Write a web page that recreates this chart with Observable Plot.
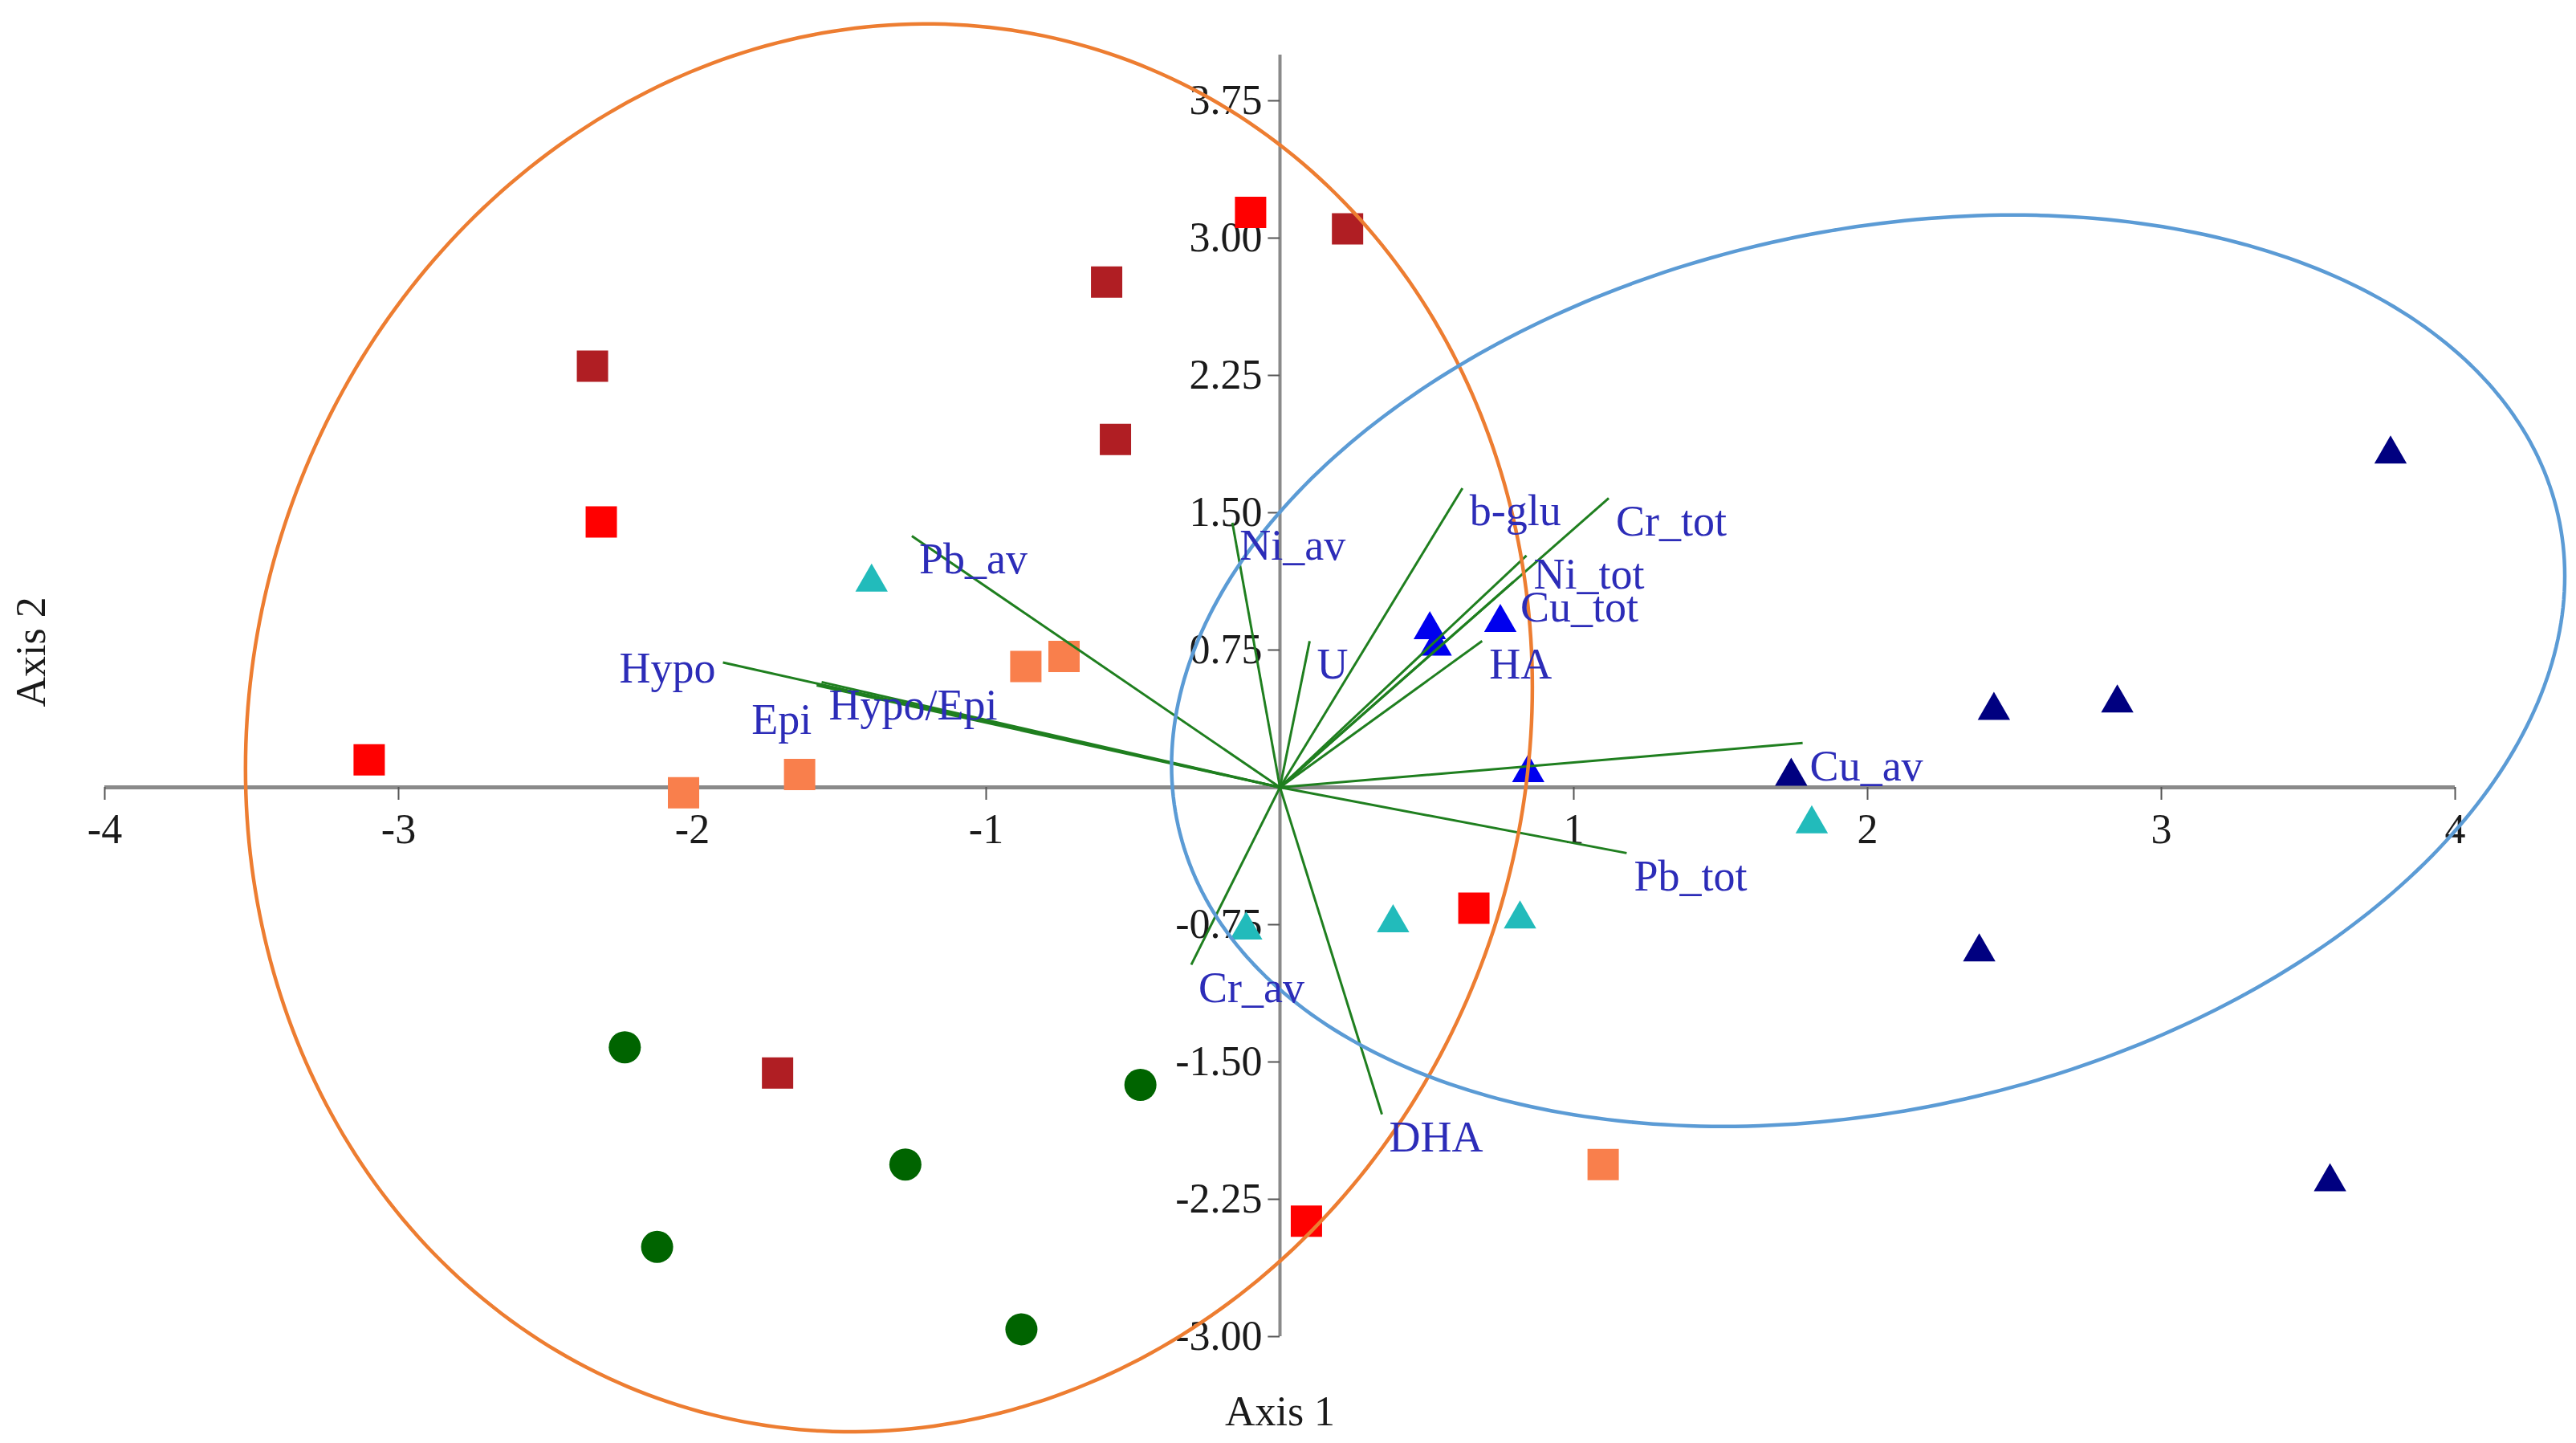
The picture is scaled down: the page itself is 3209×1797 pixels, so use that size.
<!DOCTYPE html>
<html>
<head>
<meta charset="utf-8">
<script src="https://cdn.jsdelivr.net/npm/d3@7"></script>
<script src="https://cdn.jsdelivr.net/npm/@observablehq/plot@0.6"></script>
<style>
  html, body { margin: 0; padding: 0; background: #ffffff; }
  #chart svg { display: block; }
</style>
</head>
<body>
<div id="chart"></div>
<script>
// ---- Sample scores (Axis 1, Axis 2) ----
const redSquares     = [[-0.10, 3.14], [-2.31, 1.45], [-3.10, 0.15], [0.66, -0.66], [0.09, -2.37]];
const darkRedSquares = [[0.23, 3.05], [-0.59, 2.76], [-2.34, 2.30], [-0.56, 1.90], [-1.71, -1.56]];
const coralSquares   = [[-0.865, 0.66], [-0.735, 0.715], [-1.635, 0.07], [-2.03, -0.03], [1.10, -2.06]];
const greenCircles   = [[-2.23, -1.42], [-0.475, -1.625], [-1.275, -2.06], [-2.12, -2.51], [-0.88, -2.96]];
const cyanTriangles  = [[-1.39, 1.12], [1.81, -0.20], [0.385, -0.74], [0.817, -0.72], [-0.115, -0.78]];
const navyTriangles  = [[3.78, 1.82], [2.85, 0.46], [2.43, 0.42], [1.74, 0.06], [2.38, -0.90], [3.574, -2.155]];
const blueTriangles  = [[0.51, 0.86], [0.53, 0.77], [0.75, 0.90], [0.845, 0.08]];

// ---- Biplot variable vectors (end points) ----
const vectorNames = ["Pb_av", "Hypo", "Epi", "Hypo/Epi", "Ni_av", "U", "b-glu", "Cr_tot", "Ni_tot", "Cu_tot", "HA", "Cu_av", "Pb_tot", "Cr_av", "DHA"];
const vectorX     = [-1.253, -1.896, -1.577, -1.560, -0.162, 0.101, 0.621, 1.119, 0.839, 0.794, 0.688, 1.779, 1.180, -0.302, 0.347];
const vectorY     = [ 1.373,  0.682,  0.557,  0.575,  1.445, 0.799, 1.634, 1.580, 1.266, 1.122, 0.799, 0.242, -0.359, -0.969, -1.786];
// label anchor points (Axis 1, Axis 2)
const labelX      = [-1.253, -1.896, -1.823, -1.560, -0.162, 0.101, 0.621, 1.119, 0.839, 0.794, 0.688, 1.779, 1.180, -0.302, 0.347];
const labelY      = [ 1.373,  0.682,  0.494,  0.575,  1.445, 0.799, 1.634, 1.580, 1.290, 1.110, 0.799, 0.242, -0.359, -0.969, -1.786];
const leftLabelled = ["Hypo"];

// ---- Group ellipses (centre, half-extents, correlation) ----
const ellipseNames = ["orange", "blue"];
const ellipseCx = [-1.331, 2.002];
const ellipseCy = [0.325, 0.637];
const ellipseSx = [2.190, 2.371];
const ellipseSy = [3.845, 2.489];
const ellipseR  = [0.058, 0.208];

// ---- Axes ----
const xTicks = [-4, -3, -2, -1, 1, 2, 3, 4];
const yTicks = [3.75, 3.00, 2.25, 1.50, 0.75, -0.75, -1.50, -2.25, -3.00];
const xDomain = [-4, 4];
const yDomain = [-3, 4];

// ---- Build tables ----
const toRows = arr => arr.map(([x, y]) => ({x, y}));
const vectors = vectorNames.map((name, i) => ({name, x: vectorX[i], y: vectorY[i], lx: labelX[i], ly: labelY[i]}));
const ellipsePts = [];
ellipseNames.forEach((g, k) => {
  const sx = ellipseSx[k], sy = ellipseSy[k], r = ellipseR[k];
  for (let i = 0; i <= 360; i++) {
    const t = i * Math.PI / 180;
    ellipsePts.push({
      g,
      x: ellipseCx[k] + sx * Math.cos(t),
      y: ellipseCy[k] + r * sy * Math.cos(t) + sy * Math.sqrt(1 - r * r) * Math.sin(t)
    });
  }
});

const FONT = "'Liberation Serif', 'Times New Roman', serif";
const AXIS_GRAY = "#8a8a8a";
const GREEN = "#1f7f1f";
const LABEL_BLUE = "#2c2cb8";

const chart = Plot.plot({
  width: 3209,
  height: 1797,
  marginLeft: 130,
  marginRight: 151,
  marginTop: 68,
  marginBottom: 133,
  style: {fontFamily: FONT, background: "#ffffff"},
  x: {domain: xDomain, axis: null},
  y: {domain: yDomain, axis: null},
  marks: [
    // axis lines through the origin
    Plot.ruleY([0], {x1: xDomain[0], x2: xDomain[1], stroke: AXIS_GRAY, strokeWidth: 5}),
    Plot.ruleX([0], {y1: yDomain[0], y2: yDomain[1], stroke: AXIS_GRAY, strokeWidth: 4}),
    // tick marks
    Plot.ruleX(xTicks, {x: d => d, y1: 0, y2: -0.07, stroke: "#555", strokeWidth: 2}),
    Plot.ruleY(yTicks, {y: d => d, x1: 0, x2: -0.04, stroke: "#555", strokeWidth: 2}),
    // tick labels
    Plot.text(xTicks, {x: d => d, y: 0, text: d => String(d), dy: 53, lineAnchor: "middle", fontSize: 52, fill: "#1a1a1a"}),
    Plot.text(yTicks, {x: 0, y: d => d, text: d => d.toFixed(2), dx: -22, textAnchor: "end", lineAnchor: "middle", fontSize: 52, fill: "#1a1a1a"}),
    // sample points
    Plot.dot(toRows(redSquares), {x: "x", y: "y", symbol: "square", r: 22, fill: "#ff0000"}),
    Plot.dot(toRows(darkRedSquares), {x: "x", y: "y", symbol: "square", r: 22, fill: "#b01e23"}),
    Plot.dot(toRows(coralSquares), {x: "x", y: "y", symbol: "square", r: 22, fill: "#f97f4c"}),
    Plot.dot(toRows(greenCircles), {x: "x", y: "y", symbol: "circle", r: 20, fill: "#006400"}),
    Plot.dot(toRows(cyanTriangles), {x: "x", y: "y", symbol: "triangle", r: 15, fill: "#22bbbb"}),
    Plot.dot(toRows(navyTriangles), {x: "x", y: "y", symbol: "triangle", r: 15, fill: "#000080"}),
    Plot.dot(toRows(blueTriangles), {x: "x", y: "y", symbol: "triangle", r: 15, fill: "#0000ee"}),
    // variable vectors
    Plot.link(vectors, {x1: 0, y1: 0, x2: "x", y2: "y", stroke: GREEN, strokeWidth: 3}),
    // group ellipses
    Plot.line(ellipsePts, {x: "x", y: "y", z: "g", stroke: d => d.g === "orange" ? "#ed7d31" : "#5b9bd5", strokeWidth: 4.5}),
    // vector labels
    Plot.text(vectors.filter(d => !leftLabelled.includes(d.name)), {x: "lx", y: "ly", text: "name", textAnchor: "start", lineAnchor: "top", dx: 9, dy: 8, fontSize: 54, fill: LABEL_BLUE}),
    Plot.text(vectors.filter(d => leftLabelled.includes(d.name)), {x: "lx", y: "ly", text: "name", textAnchor: "end", lineAnchor: "middle", dx: -9, dy: 8, fontSize: 54, fill: LABEL_BLUE}),
    // axis titles
    Plot.text(["Axis 1"], {frameAnchor: "bottom", text: d => d, dy: 94, lineAnchor: "middle", fontSize: 52, fill: "#1a1a1a"}),
    Plot.text(["Axis 2"], {frameAnchor: "left", text: d => d, rotate: -90, dx: -91, dy: 14, lineAnchor: "middle", fontSize: 52, fill: "#1a1a1a"})
  ]
});
document.getElementById("chart").appendChild(chart);
</script>
</body>
</html>
